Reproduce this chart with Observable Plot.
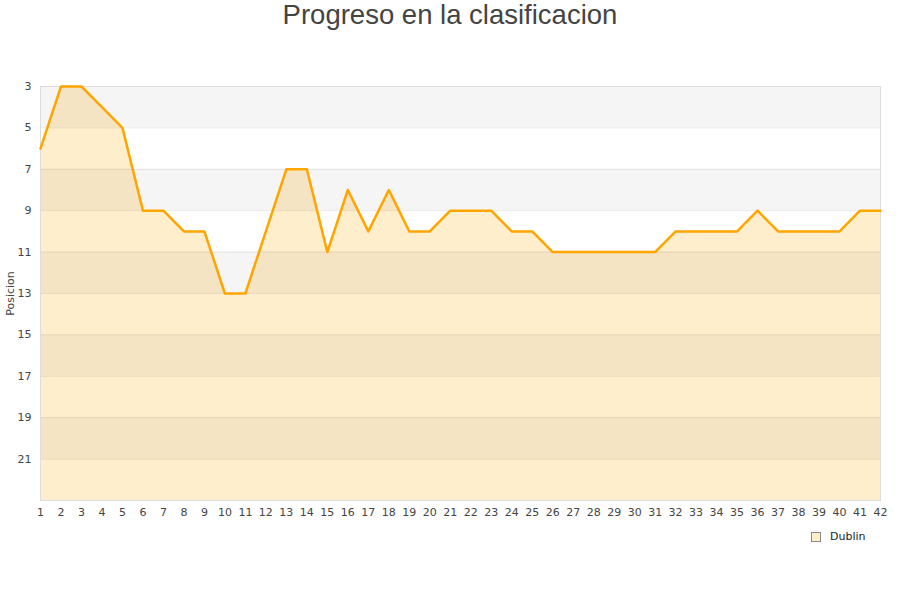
<!DOCTYPE html>
<html>
<head>
<meta charset="utf-8">
<script src="https://cdn.jsdelivr.net/npm/d3@7"></script>
<script src="https://cdn.jsdelivr.net/npm/@observablehq/plot@0.6"></script>
<style>
  body { margin: 0; background: #fff; font-family: "DejaVu Sans", sans-serif; }
  #wrap { position: relative; width: 900px; height: 600px; }
  #title { position: absolute; left: 0; top: -1px; width: 900px; text-align: center;
           font-family: "Liberation Sans", Arial, sans-serif; font-size: 27.5px; color: #444; line-height: 32px; }
  #legend { position: absolute; left: 811px; top: 530px; font-size: 11px; color: #222; display: flex; align-items: center; }
  #legend .sw { width: 8px; height: 8px; background: #ffeecc; border: 1px solid #888; margin-right: 9px; }
  svg { position: absolute; left: 0; top: 0; }
</style>
</head>
<body>
<div id="wrap">
  <div id="title">Progreso en la clasificacion</div>
  <div id="legend"><div class="sw"></div><span>Dublin</span></div>
</div>
<script>
const jornadas = d3.range(1, 43);
const posiciones = [6, 3, 3, 4, 5, 9, 9, 10, 10, 13, 13, 10, 7, 7, 11, 8, 10, 8, 10, 10,
                    9, 9, 9, 10, 10, 11, 11, 11, 11, 11, 11, 10, 10, 10, 10, 9, 10, 10, 10, 10, 9, 9];
const yTicks = [3, 5, 7, 9, 11, 13, 15, 17, 19, 21];
const yDomain = [3, 23];
const bandStarts = [3, 7, 11, 15, 19];
const teamName = "Dublin";

const data = jornadas.map((j, i) => ({ jornada: j, pos: posiciones[i] }));
const bands = bandStarts.map(s => ({ y1: s, y2: s + 2 }));

const chart = Plot.plot({
  width: 900,
  height: 600,
  marginTop: 86,
  marginBottom: 100,
  marginLeft: 40,
  marginRight: 20,
  style: { fontFamily: "DejaVu Sans, sans-serif", fontSize: "11px", color: "#444", background: "transparent" },
  x: { domain: [1, 42] },
  y: { domain: yDomain, reverse: true },
  marks: [
    Plot.areaY(data, { x: "jornada", y1: yDomain[1], y2: "pos", fill: "#ffeecc" }),
    Plot.rect(bands, { y1: "y1", y2: "y2", fill: "#000", fillOpacity: 0.04 }),
    Plot.ruleY(yTicks, { stroke: "#000", strokeOpacity: 0.08 }),
    Plot.frame({ stroke: "#ddd" }),
    Plot.lineY(data, { x: "jornada", y: "pos", stroke: "#ffa500", strokeWidth: 2.5 }),
    Plot.axisY({ ticks: yTicks, tickSize: 0, tickPadding: 9, label: "Posicion", labelAnchor: "center", labelArrow: "none", labelOffset: 34, fill: "#444" }),
    Plot.axisX({ ticks: jornadas, tickSize: 0, tickPadding: 8, tickFormat: d => String(d), label: null, fill: "#444" })
  ]
});
document.getElementById("wrap").appendChild(chart);
</script>
</body>
</html>
